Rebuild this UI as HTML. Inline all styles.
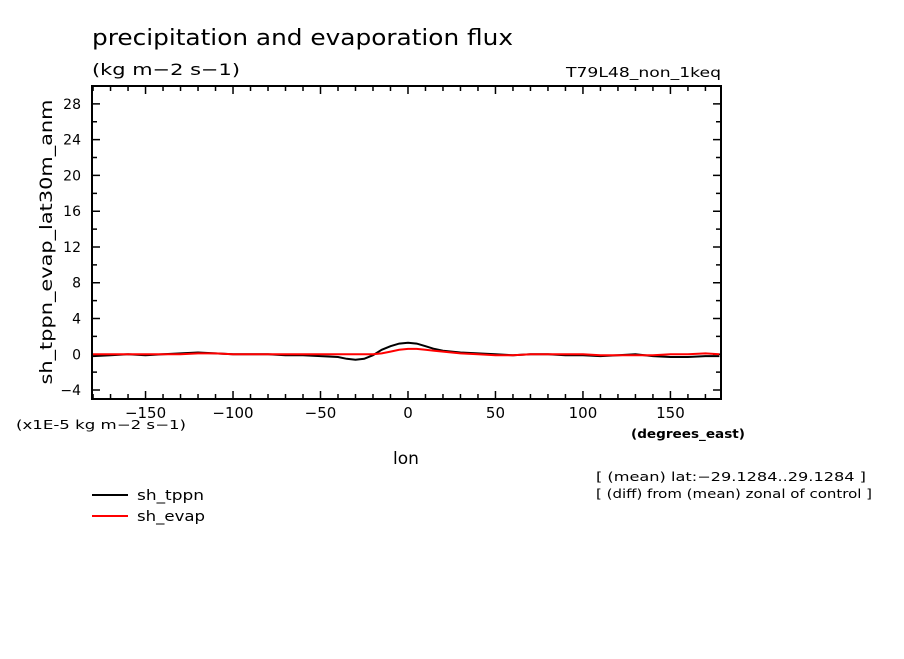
<!DOCTYPE html>
<html><head><meta charset="utf-8"><style>
body{margin:0;background:#fff;}
svg text{font-family:"DejaVu Sans","Liberation Sans",sans-serif;fill:#000;}
</style></head><body>
<svg width="904" height="654" viewBox="0 0 904 654" xmlns="http://www.w3.org/2000/svg">
<text x="92" y="45" font-size="22" textLength="421" lengthAdjust="spacingAndGlyphs">precipitation and evaporation flux</text>
<text x="92" y="75" font-size="16" textLength="148" lengthAdjust="spacingAndGlyphs">(kg m−2 s−1)</text>
<text x="566" y="77" font-size="13" textLength="155" lengthAdjust="spacingAndGlyphs">T79L48_non_1keq</text>
<g id="axes"></g>
<g id="series"></g>
<rect x="92" y="86" width="629" height="313" fill="none" stroke="#000" stroke-width="2"/>
<text transform="translate(52,242) rotate(-90)" font-size="17" text-anchor="middle" textLength="285" lengthAdjust="spacingAndGlyphs">sh_tppn_evap_lat30m_anm</text>
<text x="16" y="429" font-size="12" textLength="170" lengthAdjust="spacingAndGlyphs">(x1E-5 kg m−2 s−1)</text>
<text x="631" y="438" font-size="12" font-weight="bold" textLength="114" lengthAdjust="spacingAndGlyphs">(degrees_east)</text>
<text x="406" y="464" font-size="17" text-anchor="middle">lon</text>
<text x="596" y="481" font-size="12" textLength="270" lengthAdjust="spacingAndGlyphs">[ (mean) lat:−29.1284..29.1284 ]</text>
<text x="596" y="498" font-size="12" textLength="276" lengthAdjust="spacingAndGlyphs">[ (diff) from (mean) zonal of control ]</text>
<g>
<line x1="92" y1="495" x2="128" y2="495" stroke="#000" stroke-width="2"/>
<text x="137" y="500" font-size="14" textLength="67" lengthAdjust="spacingAndGlyphs">sh_tppn</text>
<line x1="92" y1="516" x2="128" y2="516" stroke="#f00" stroke-width="2"/>
<text x="137" y="521" font-size="14" textLength="68" lengthAdjust="spacingAndGlyphs">sh_evap</text>
</g>
</svg>
<script>
const lons=[-180,-170,-160,-150,-140,-130,-120,-110,-100,-90,-80,-70,-60,-50,-40,-35,-30,-25,-20,-15,-10,-5,0,5,10,15,20,25,30,40,50,60,70,80,90,100,110,120,130,140,150,160,170,178];
const tppn=[-0.2,-0.1,0.0,-0.1,0.0,0.1,0.2,0.1,0.0,0.0,0.0,-0.1,-0.1,-0.2,-0.3,-0.5,-0.6,-0.5,-0.1,0.5,0.9,1.2,1.3,1.2,0.9,0.6,0.4,0.3,0.2,0.1,0.0,-0.1,0.0,0.0,-0.1,-0.1,-0.2,-0.1,0.0,-0.2,-0.3,-0.3,-0.2,-0.2];
const evap=[0.0,0.0,0.0,0.0,0.0,0.0,0.1,0.1,0.0,0.0,0.0,0.0,0.0,0.0,0.0,0.0,0.0,0.0,0.0,0.1,0.3,0.5,0.6,0.6,0.5,0.4,0.3,0.2,0.1,0.0,-0.1,-0.1,0.0,0.0,0.0,0.0,-0.1,-0.1,-0.1,-0.1,0.0,0.0,0.1,0.0];
const yTicks=[-4,0,4,8,12,16,20,24,28];
const xTicks=[-150,-100,-50,0,50,100,150];
const NS="http://www.w3.org/2000/svg";
const X0=92,X1=721,Y0=86,Y1=399,xmin=-180.6,xmax=178.9,ymin=-5,ymax=30;
const sx=v=>X0+(v-xmin)/(xmax-xmin)*(X1-X0);
const sy=v=>Y1-(v-ymin)/(ymax-ymin)*(Y1-Y0);
const axes=document.getElementById('axes'),ser=document.getElementById('series');
function mk(tag,at,parent){const e=document.createElementNS(NS,tag);for(const k in at)e.setAttribute(k,at[k]);parent.appendChild(e);return e;}
for(let v=-180;v<=178;v+=10){
  const x=sx(v),major=v%50===0;const L=major?8:5;
  const t=mk('path',{d:`M${x},${Y1}v${-L}M${x},${Y0}v${L}`,stroke:'#000','stroke-width':1.5},axes);
  
  
}
xTicks.forEach(v=>{
  const t=mk('text',{x:sx(v),y:Y1+19,'font-size':15,'text-anchor':'middle'},axes);
  t.textContent=String(v).replace('-','−');
  
  
});
for(let v=-4;v<=30;v+=2){
  const y=sy(v),major=v%4===0;const L=major?8:5;
  const t=mk('path',{d:`M${X0},${y}h${L}M${X1},${y}h${-L}`,stroke:'#000','stroke-width':1.5},axes);
  
  
}
yTicks.forEach(v=>{
  const t=mk('text',{x:X0-11,y:sy(v)+5,'font-size':14,'text-anchor':'end'},axes);
  t.textContent=String(v).replace('-','−');
  
  
});
function line(vals,color,name){
  const d=lons.map((l,i)=>(i?'L':'M')+sx(l).toFixed(1)+','+sy(vals[i]).toFixed(1)).join('');
  const p=mk('path',{d:d,fill:'none',stroke:color,'stroke-width':2},ser);
  
  
}
line(tppn,'#000','series-sh-tppn');
line(evap,'#f00','series-sh-evap');
</script>
</body></html>
